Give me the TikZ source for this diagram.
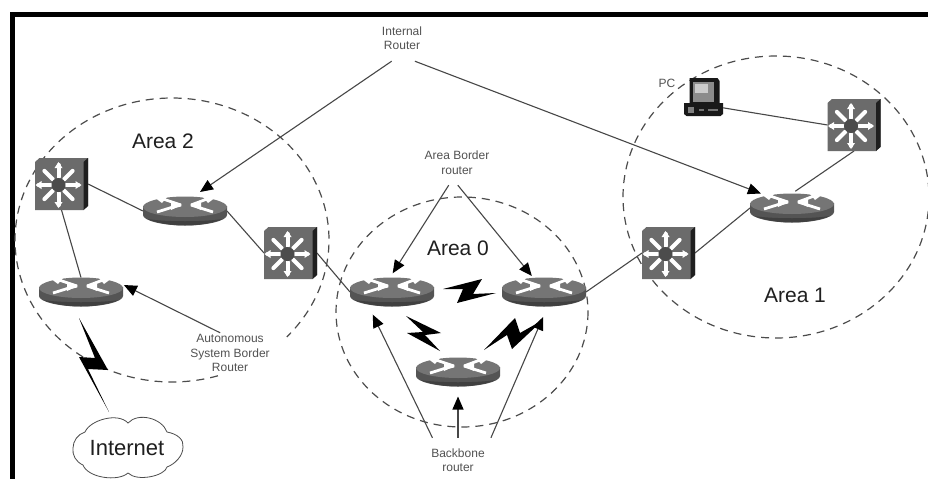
\documentclass[tikz,border=0pt]{standalone}
\usepackage{fontspec}
\setmainfont{Liberation Sans}
\usetikzlibrary{arrows.meta}
\definecolor{linegray}{gray}{0.28}
\definecolor{dashgray}{gray}{0.3}
\definecolor{rbody}{gray}{0.33}
\definecolor{rbot}{gray}{0.25}
\definecolor{rtop}{gray}{0.46}
\definecolor{sface}{gray}{0.42}
\definecolor{sside}{gray}{0.12}
\definecolor{shub}{gray}{0.3}
\tikzset{
  x=1pt,y=-1pt,
  areacircle/.style={draw=dashgray,line width=1.2pt,dash pattern=on 8pt off 6pt},
  link/.style={draw=linegray,line width=1.1pt},
  arrowline/.style={draw=linegray,line width=1.1pt,-{Triangle[length=13pt,width=11pt,color=black]}},
  routernode/.style={minimum width=84pt,minimum height=29pt,inner sep=0pt,outer sep=0pt},
  switchnode/.style={minimum width=53pt,minimum height=52pt,inner sep=0pt,outer sep=0pt},
  pcnode/.style={minimum width=39pt,minimum height=38pt,inner sep=0pt,outer sep=0pt},
  arealabel/.style={font=\fontsize{21}{24}\selectfont,text=black!88,inner sep=0pt},
  smalllabel/.style={font=\fontsize{12}{14.5}\selectfont,text=black!68,align=center,inner sep=0pt},
  bolt/.style={fill=black,draw=none},
}
\newcommand{\routerpic}[1]{%
  \begin{scope}[shift={(#1)}]
    \fill[rbody] (-42,-5) -- (-42,4) .. controls (-42,9.5) and (-23,14.5) .. (0,14.5) .. controls (23,14.5) and (42,9.5) .. (42,4) -- (42,-5) -- cycle;
    \fill[rbot] (-38,8) .. controls (-28,12) and (-14,14.5) .. (0,14.5) .. controls (14,14.5) and (28,12) .. (38,8) .. controls (20,11) and (-20,11) .. (-38,8) -- cycle;
    \fill[rtop] (-42,-4) .. controls (-42,-9.5) and (-23,-14.5) .. (0,-14.5) .. controls (23,-14.5) and (42,-9.5) .. (42,-4) .. controls (42,1.5) and (23,6) .. (0,6) .. controls (-23,6) and (-42,1.5) .. (-42,-4) -- cycle;
    \draw[white,line width=2.8pt] (-22,-12) -- (-4,-6);
    \draw[white,line width=2.8pt] (-28,1) -- (-12,-4) -- (-4,-6);
    \draw[white,line width=2.8pt] (22,-12) -- (6,-6);
    \draw[white,line width=2.8pt] (28,1) -- (6,-6);
    \fill[white] (-31,-14) -- (-18,-14) -- (-23,-8) -- cycle;
    \fill[white] (31,-14) -- (18,-14) -- (23,-8) -- cycle;
    \fill[white] (-3,-6) -- (-14,-10) -- (-14,-1) -- cycle;
    \fill[white] (5,-6) -- (16,-10) -- (16,-1) -- cycle;
  \end{scope}}
\newcommand{\switchpic}[1]{%
  \begin{scope}[shift={(#1)}]
    \fill[sface] (-26.5,-22) -- (-22,-26) -- (26.5,-26) -- (26.5,22) -- (22,26) -- (-26.5,26) -- cycle;
    \fill[sside] (22,-22) -- (26.5,-26) -- (26.5,22) -- (22,26) -- cycle;
    \foreach \a in {0,45,...,315}{
      \draw[white,line width=4pt,line cap=round] ({-3+8*cos(\a)},{1+8*sin(\a)}) -- ({-3+20*cos(\a)},{1+20*sin(\a)});
    }
    \foreach \a in {0,90,180,270}{
      \fill[white] ({-3+23*cos(\a)},{1+23*sin(\a)}) -- ({-3+17*cos(\a)-4*sin(\a)},{1+17*sin(\a)+4*cos(\a)}) -- ({-3+17*cos(\a)+4*sin(\a)},{1+17*sin(\a)-4*cos(\a)}) -- cycle;
    }
    \fill[shub] (-3,1) circle[radius=7];
  \end{scope}}
\newcommand{\pcpic}[1]{%
  \begin{scope}[shift={(#1)}]
    \fill[black!90] (-14,-19) -- (14,-19) -- (16,-16) -- (16,8) -- (-14,8) -- cycle;
    \fill[black!45] (-11,-15) rectangle (10,5);
    \fill[black!20] (-9,-13) rectangle (4,-4);
    \fill[black!90] (-19.5,6) -- (19.5,6) -- (19.5,17) -- (17,19) -- (-17,19) -- (-19.5,17) -- cycle;
    \fill[black!50] (-16,10) rectangle (-10,16);
    \fill[black!55] (-5,12) rectangle (0,14);
    \fill[black!55] (4,12) rectangle (14,14);
  \end{scope}}
\begin{document}
\begin{tikzpicture}
\useasboundingbox (0,0) rectangle (928,479);
\fill[white] (0,0) rectangle (928,479);
\clip (0,0) rectangle (928,479);
% frame
\fill[black] (10,12) rectangle (928,17);
\fill[black] (10,12) rectangle (15,479);
% area circles
\draw[areacircle] plot[domain=73:403,samples=200] ({172+157*cos(\x)},{240+142*sin(\x)});
\draw[areacircle] (462,312) ellipse [x radius=126,y radius=115];
\draw[areacircle] (776,197) ellipse [x radius=153,y radius=141];
% nodes
\node[routernode] (r1) at (185,211) {};
\node[routernode] (r2) at (81,292) {};
\node[routernode] (r3) at (392,292) {};
\node[routernode] (r4) at (544,292) {};
\node[routernode] (r5) at (458,372) {};
\node[routernode] (r6) at (792,208) {};
\node[switchnode] (s1) at (61.5,184) {};
\node[switchnode] (s2) at (290.5,253) {};
\node[switchnode] (s3) at (668.5,253) {};
\node[switchnode] (s4) at (854,125) {};
\node[pcnode] (pc) at (703.5,97) {};
\node[smalllabel,minimum width=60pt,minimum height=46pt] (ir) at (402,38) {Internal\\Router};
\node[smalllabel,minimum width=90pt,minimum height=45pt] (ab) at (457,162.5) {Area Border\\router};
\node[smalllabel,minimum width=100pt,minimum height=44pt] (bb) at (458,460) {Backbone\\router};
\node[smalllabel,minimum width=90pt,minimum height=40pt] (as) at (230,353) {Autonomous\\System Border\\Router};
% links
\draw[link] (s1.east) -- (r1.west);
\draw[link] (s1.south) -- (r2.north);
\draw[link] (r1.east) -- (s2.west);
\draw[link] (s2.east) -- (r3.west);
\draw[link] (r4.east) -- (s3.west);
\draw[link] (s3.east) -- (r6.west);
\draw[link,shorten <=4pt] (r6.north) -- (s4.south);
\draw[link] (pc.-29) -- (s4.west);
% arrows
\draw[arrowline,shorten >=8pt] (ir.246.5) -- (r1.60);
\draw[arrowline] (ir.299.5) -- (r6.155);
\draw[arrowline,shorten >=5pt] (ab.250.4) -- (r3.98);
\draw[arrowline,shorten >=2pt] (ab.272.5) -- (r4.127);
\draw[arrowline,shorten >=9pt] (bb.139.8) -- (r3.212);
\draw[arrowline,shorten >=10pt] (bb.north) -- (r5.south);
\draw[arrowline,shorten >=11.5pt] (bb.34.5) -- (r4.284);
\draw[arrowline,shorten >=1pt] (as.116.6) -- (r2.10.8);
% icons
\routerpic{r1}\routerpic{r2}\routerpic{r3}\routerpic{r4}\routerpic{r5}\routerpic{r6}
\switchpic{s1}\switchpic{s2}\switchpic{s3}\switchpic{s4}
\pcpic{pc}
% lightning bolts
\fill[bolt] (79,318) -- (108,370) -- (88,369) -- (109,412) -- (79,357) -- (95,358) -- cycle;
\fill[bolt] (443,289) -- (482,279) -- (473,294) -- (496,293) -- (457,303) -- (463,289) -- cycle;
\fill[bolt] (406,316) -- (441,333) -- (425,335) -- (440,351) -- (407,333) -- (423,332) -- cycle;
\fill[bolt] (484,350) -- (515,318) -- (520,333) -- (543,320) -- (512,349) -- (507,335) -- cycle;
% cloud
\draw[black!70,line width=0.8pt,fill=white] (85,432) .. controls (90,420) and (118,412) .. (128,423) .. controls (138,412) and (162,418) .. (167,432) .. controls (178,434) and (184,440) .. (183,447) .. controls (183,456) and (175,464) .. (167,467) .. controls (165,476) and (137,482) .. (128,473) .. controls (118,482) and (88,478) .. (83,465) .. controls (76,462) and (72,455) .. (73,448) .. controls (73,441) and (78,434) .. (85,432) -- cycle;
\node[arealabel,font=\fontsize{22}{26}\selectfont] (inet) at (127,448) {Internet};
% labels
\node[arealabel] (a2) at (163,141) {Area 2};
\node[arealabel] (a0) at (458,248) {Area 0};
\node[arealabel] (a1) at (795,295) {Area 1};
\node[smalllabel] (pclabel) at (667,83) {PC};
\end{tikzpicture}
\end{document}
